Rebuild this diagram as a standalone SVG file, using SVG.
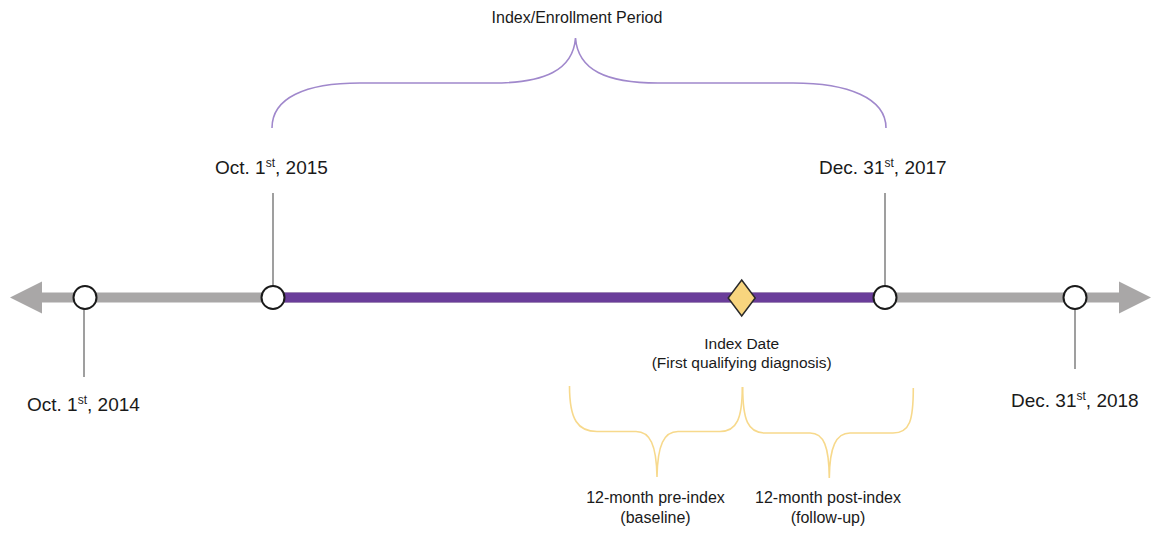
<svg xmlns="http://www.w3.org/2000/svg" width="1151" height="533" viewBox="0 0 1151 533">
  <style>
    .lbl { font-family: "Liberation Sans", Arial, sans-serif; fill: #1a1a1a; }
    .date { font-size: 19px; }
    .sup { font-size: 12px; }
    .small { font-size: 16px; }
    .lead { stroke: #7f7f7f; stroke-width: 1.5; fill: none; }
    .pt { fill: #ffffff; stroke: #1a1a1a; stroke-width: 2; }
    .brace-p { fill: none; stroke: #a088cc; stroke-width: 1.6; }
    .brace-y { fill: none; stroke: #f7d98c; stroke-width: 1.6; }
  </style>
  <rect width="1151" height="533" fill="#ffffff"/>

  <g id="connectors">
    <!-- timeline axis -->
    <line x1="38" y1="297.5" x2="1122" y2="297.5" stroke="#a9a7a7" stroke-width="10"/>
    <polygon points="10,297.5 42,281.5 42,313.5" fill="#a9a7a7"/>
    <polygon points="1151,297.5 1119,281.5 1119,313.5" fill="#a9a7a7"/>
    <line x1="273" y1="297.5" x2="885" y2="297.5" stroke="#6a3d9a" stroke-width="10"/>
    <!-- leader lines -->
    <line class="lead" x1="84" y1="309" x2="84" y2="377"/>
    <line class="lead" x1="273" y1="193" x2="273" y2="286"/>
    <line class="lead" x1="885" y1="193" x2="885" y2="286"/>
    <line class="lead" x1="1075" y1="309" x2="1075" y2="369"/>
  </g>

  <g id="brace-enrollment">
    <path class="brace-p" d="M272,128 C272,98 305,83 360,83 L493,83 C545,83 573,70 575.5,38 C578,70 606,83 658,83 L793,83 C848,83 886,98 886,128"/>
    <text class="lbl small" x="577" y="23" text-anchor="middle">Index/Enrollment Period</text>
  </g>

  <g id="node-oct2014">
    <circle class="pt" cx="85" cy="297.5" r="11.5"/>
    <text class="lbl date" x="27" y="411">Oct. 1<tspan class="sup" dy="-7">st</tspan><tspan dy="7">, 2014</tspan></text>
  </g>

  <g id="node-oct2015">
    <circle class="pt" cx="273" cy="297.5" r="11.5"/>
    <text class="lbl date" x="215" y="174">Oct. 1<tspan class="sup" dy="-7">st</tspan><tspan dy="7">, 2015</tspan></text>
  </g>

  <g id="node-index">
    <polygon points="741.7,280 755.2,298 741.7,316 728.2,298" fill="#f8d57e" stroke="#2a2a2a" stroke-width="1.5"/>
    <text class="lbl" font-size="15.5" x="741.7" y="349" text-anchor="middle">Index Date</text>
    <text class="lbl" font-size="15.5" x="741.7" y="368" text-anchor="middle">(First qualifying diagnosis)</text>
  </g>

  <g id="node-dec2017">
    <circle class="pt" cx="885" cy="297.5" r="11.5"/>
    <text class="lbl date" x="819" y="174">Dec. 31<tspan class="sup" dy="-7">st</tspan><tspan dy="7">, 2017</tspan></text>
  </g>

  <g id="node-dec2018">
    <circle class="pt" cx="1075" cy="297.5" r="11.5"/>
    <text class="lbl date" x="1011" y="407">Dec. 31<tspan class="sup" dy="-7">st</tspan><tspan dy="7">, 2018</tspan></text>
  </g>

  <g id="brace-pre">
    <path class="brace-y" d="M569.5,386 C569.5,420 578,431.5 597,431.5 L636,431.5 C650,431.5 656.5,445 657,477 C657.5,445 664,431.5 678,431.5 L720,431.5 C737,431.5 742.3,418 742.3,387"/>
    <text class="lbl small" x="655.5" y="503" text-anchor="middle">12-month pre-index</text>
    <text class="lbl small" x="655.5" y="523" text-anchor="middle">(baseline)</text>
  </g>

  <g id="brace-post">
    <path class="brace-y" d="M742.7,387 C742.7,420 748,433 765,433 L810,433 C824,433 829,447 829.3,478 C829.6,447 836,433 850,433 L893,433 C910,433 913.3,420 913.3,388"/>
    <text class="lbl small" x="828" y="503" text-anchor="middle">12-month post-index</text>
    <text class="lbl small" x="828" y="523" text-anchor="middle">(follow-up)</text>
  </g>
</svg>
